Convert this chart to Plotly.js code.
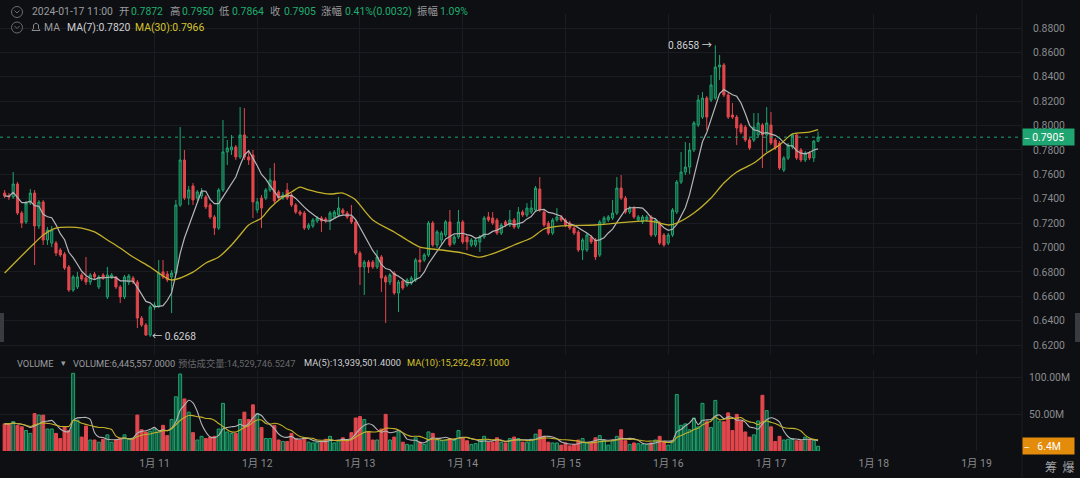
<!DOCTYPE html>
<html><head><meta charset="utf-8">
<script src="https://cdn.plot.ly/plotly-3.0.1.min.js"></script>
<style>html,body{margin:0;padding:0;background:#0e0f12;overflow:hidden}#chart{width:1080px;height:478px}</style>
</head><body><div id="chart"></div>
<script>
// hourly candles, first candle 2024-01-09 13:00, last 2024-01-17 11:00
const open = [0.7447,0.7423,0.7415,0.7521,0.7283,0.7210,0.7365,0.7447,0.7177,0.7374,0.7062,0.7037,0.7037,0.6980,0.6947,0.6841,0.6652,0.6677,0.6775,0.6750,0.6717,0.6783,0.6677,0.6775,0.6595,0.6750,0.6759,0.6677,0.6595,0.6717,0.6750,0.6717,0.6422,0.6365,0.6283,0.6513,0.6521,0.6800,0.6783,0.6759,0.6791,0.7349,0.7718,0.7406,0.7505,0.7406,0.7423,0.7415,0.7349,0.7251,0.7160,0.7472,0.7784,0.7800,0.7825,0.7743,0.7923,0.7743,0.7759,0.7308,0.7406,0.7406,0.7472,0.7546,0.7456,0.7406,0.7472,0.7431,0.7349,0.7291,0.7283,0.7160,0.7177,0.7218,0.7242,0.7234,0.7218,0.7251,0.7267,0.7308,0.7283,0.7251,0.7210,0.6955,0.6841,0.6881,0.6881,0.6841,0.6923,0.6759,0.6717,0.6791,0.6627,0.6726,0.6693,0.6709,0.6734,0.6898,0.6898,0.6939,0.7201,0.7021,0.7062,0.7103,0.7210,0.7037,0.7087,0.7210,0.7087,0.7021,0.7021,0.7046,0.7087,0.7251,0.7242,0.7226,0.7119,0.7210,0.7185,0.7226,0.7168,0.7291,0.7267,0.7291,0.7308,0.7480,0.7291,0.7201,0.7119,0.7226,0.7251,0.7226,0.7201,0.7160,0.7128,0.6980,0.6980,0.7087,0.7062,0.6939,0.7201,0.7226,0.7242,0.7283,0.7488,0.7406,0.7291,0.7324,0.7226,0.7210,0.7226,0.7251,0.7103,0.7201,0.7103,0.7037,0.7103,0.7291,0.7537,0.7619,0.7660,0.7800,0.8005,0.8070,0.8226,0.8210,0.8226,0.8480,0.8497,0.8251,0.8087,0.8070,0.8005,0.7988,0.7882,0.7882,0.7923,0.8005,0.7923,0.8005,0.7882,0.7857,0.7636,0.7734,0.7824,0.7923,0.7800,0.7718,0.7775,0.7734,0.7872];
const high = [0.7472,0.7447,0.7620,0.7538,0.7300,0.7382,0.7480,0.7472,0.7390,0.7390,0.7169,0.7177,0.7054,0.6996,0.6964,0.6857,0.6775,0.6800,0.6791,0.6923,0.6791,0.6800,0.6775,0.6791,0.6841,0.6791,0.6767,0.6693,0.6775,0.6783,0.6767,0.6734,0.6439,0.6381,0.6529,0.6554,0.6898,0.6898,0.6808,0.6816,0.7390,0.7988,0.7800,0.7505,0.7529,0.7472,0.7488,0.7431,0.7365,0.7267,0.7488,0.8046,0.7882,0.7923,0.7841,0.8152,0.8144,0.7784,0.7800,0.7406,0.7431,0.7488,0.7652,0.7693,0.7472,0.7456,0.7529,0.7447,0.7365,0.7308,0.7300,0.7201,0.7242,0.7259,0.7259,0.7251,0.7300,0.7308,0.7415,0.7324,0.7300,0.7349,0.7226,0.6972,0.6898,0.6898,0.6898,0.6980,0.6939,0.6775,0.6791,0.6808,0.6734,0.6734,0.6750,0.6767,0.6914,0.6996,0.6955,0.7218,0.7218,0.7144,0.7136,0.7226,0.7308,0.7103,0.7308,0.7226,0.7103,0.7078,0.7078,0.7103,0.7259,0.7291,0.7291,0.7242,0.7201,0.7226,0.7308,0.7242,0.7332,0.7308,0.7365,0.7390,0.7505,0.7578,0.7308,0.7218,0.7242,0.7324,0.7267,0.7242,0.7218,0.7177,0.7144,0.7078,0.7119,0.7103,0.7078,0.7226,0.7259,0.7267,0.7390,0.7578,0.7595,0.7423,0.7341,0.7341,0.7267,0.7267,0.7267,0.7267,0.7242,0.7218,0.7119,0.7119,0.7324,0.7554,0.7783,0.7865,0.7857,0.8037,0.8251,0.8275,0.8242,0.8415,0.8658,0.8579,0.8513,0.8267,0.8185,0.8087,0.8021,0.8005,0.7898,0.8103,0.8103,0.8021,0.8152,0.8111,0.7898,0.7874,0.7750,0.7857,0.7939,0.7939,0.7816,0.7791,0.7791,0.7882,0.7950];
const low = [0.7406,0.7390,0.7398,0.7267,0.7160,0.7193,0.7349,0.6857,0.7152,0.7021,0.7021,0.7005,0.6931,0.6923,0.6816,0.6636,0.6636,0.6660,0.6726,0.6693,0.6693,0.6742,0.6660,0.6734,0.6578,0.6742,0.6660,0.6545,0.6578,0.6693,0.6701,0.6340,0.6349,0.6275,0.6268,0.6488,0.6504,0.6742,0.6717,0.6463,0.6775,0.7333,0.7390,0.7349,0.7349,0.7382,0.7398,0.7316,0.7234,0.7103,0.7144,0.7456,0.7677,0.7759,0.7718,0.7726,0.7718,0.7677,0.7242,0.7283,0.7160,0.7390,0.7456,0.7365,0.7390,0.7390,0.7390,0.7333,0.7275,0.7259,0.7144,0.7144,0.7160,0.7201,0.7128,0.7201,0.7144,0.7234,0.7251,0.7267,0.7234,0.7193,0.6939,0.6693,0.6611,0.6791,0.6824,0.6824,0.6636,0.6381,0.6693,0.6611,0.6471,0.6652,0.6677,0.6693,0.6717,0.6799,0.6881,0.6923,0.7005,0.6996,0.7021,0.7087,0.7005,0.7021,0.7070,0.7029,0.6980,0.7005,0.7005,0.6964,0.7070,0.7210,0.7185,0.7103,0.7103,0.7168,0.7168,0.7152,0.7152,0.7251,0.7251,0.7275,0.7291,0.7291,0.7168,0.7103,0.7103,0.7210,0.7210,0.7168,0.7144,0.7103,0.6964,0.6898,0.6964,0.7029,0.6898,0.6923,0.7185,0.7210,0.7226,0.7267,0.7390,0.7275,0.7275,0.7234,0.7210,0.7193,0.7210,0.7087,0.7087,0.7021,0.7005,0.7021,0.7087,0.7275,0.7521,0.7595,0.7603,0.7783,0.7988,0.8054,0.7964,0.8193,0.8210,0.8374,0.8234,0.8054,0.8054,0.7841,0.7931,0.7865,0.7800,0.7865,0.7906,0.7652,0.7783,0.7841,0.7800,0.7636,0.7619,0.7718,0.7808,0.7718,0.7701,0.7701,0.7718,0.7701,0.7864];
const close = [0.7423,0.7415,0.7521,0.7283,0.7201,0.7365,0.7447,0.7177,0.7374,0.7062,0.7144,0.7144,0.6955,0.6939,0.6832,0.6652,0.6759,0.6759,0.6742,0.6717,0.6775,0.6759,0.6759,0.6750,0.6775,0.6775,0.6677,0.6595,0.6759,0.6767,0.6717,0.6422,0.6365,0.6283,0.6513,0.6529,0.6791,0.6759,0.6734,0.6791,0.7349,0.7718,0.7406,0.7472,0.7390,0.7456,0.7456,0.7333,0.7251,0.7160,0.7472,0.7784,0.7816,0.7825,0.7743,0.7923,0.7743,0.7718,0.7374,0.7374,0.7324,0.7472,0.7554,0.7382,0.7406,0.7431,0.7406,0.7349,0.7291,0.7275,0.7160,0.7185,0.7226,0.7242,0.7218,0.7218,0.7283,0.7291,0.7324,0.7283,0.7251,0.7210,0.6955,0.6841,0.6881,0.6841,0.6841,0.6923,0.6750,0.6717,0.6775,0.6627,0.6717,0.6668,0.6734,0.6750,0.6898,0.6881,0.6939,0.7201,0.7021,0.7128,0.7119,0.7210,0.7021,0.7087,0.7210,0.7046,0.7046,0.7062,0.7062,0.7087,0.7242,0.7226,0.7201,0.7119,0.7185,0.7185,0.7226,0.7168,0.7291,0.7267,0.7324,0.7324,0.7488,0.7308,0.7185,0.7119,0.7226,0.7251,0.7226,0.7185,0.7160,0.7119,0.6980,0.7062,0.7103,0.7046,0.6923,0.7210,0.7242,0.7251,0.7283,0.7488,0.7406,0.7291,0.7324,0.7251,0.7251,0.7251,0.7251,0.7103,0.7226,0.7037,0.7021,0.7103,0.7308,0.7537,0.7619,0.7660,0.7800,0.8021,0.8210,0.8226,0.8070,0.8333,0.8480,0.8497,0.8251,0.8070,0.8070,0.7980,0.7947,0.7882,0.7816,0.7988,0.8021,0.7923,0.8021,0.7857,0.7816,0.7652,0.7734,0.7841,0.7923,0.7734,0.7718,0.7775,0.7734,0.7872,0.7905];
// volume in millions
const volume = [37,37,40,35,33,28,24,51,49,49,30,30,24,17,33,28,106,42,19,34,15,15,12,16,22,12,15,17,22,17,17,49,29,26,27,30,26,35,21,43,74,105,71,53,25,15,20,17,19,20,30,65,26,24,24,43,53,43,63,51,32,17,17,35,15,13,13,24,17,15,17,12,11,12,13,16,20,11,14,18,15,25,45,47,43,26,15,15,30,50,15,19,26,12,9,8,18,12,9,26,24,15,14,15,17,15,28,18,14,9,10,15,20,12,12,18,12,11,17,19,17,12,12,16,23,29,20,12,11,11,8,11,7,9,15,17,11,11,18,21,15,8,14,20,29,14,9,11,10,9,9,11,15,20,13,8,14,77,35,37,29,45,33,65,40,32,69,40,40,52,28,50,41,26,19,22,41,76,55,33,13,20,15,16,17,14,14,19,16,14.3,6.4456];
// MA(30) line: candle index -> value
const ma30Idx = [0,3,7,9,12,15,18,21,24,27,30,34,36,39,44,47,50,53,55,57,60,62,65,67,69,71,73,76,79,81,82,86,91,94,97,102,107,111,115,119,123,126,130,138,146,150,153,155,157,161,165,168,171,175,178,181,184,188,190];
const ma30Val = [0.6791,0.6898,0.7037,0.7103,0.7160,0.7168,0.7160,0.7128,0.7062,0.6996,0.6922,0.6840,0.6791,0.6734,0.6799,0.6873,0.6922,0.7021,0.7103,0.7185,0.7242,0.7324,0.7414,0.7455,0.7496,0.7472,0.7455,0.7439,0.7447,0.7414,0.7390,0.7226,0.7128,0.7062,0.7004,0.6980,0.6955,0.6922,0.6963,0.7021,0.7078,0.7152,0.7177,0.7185,0.7210,0.7218,0.7201,0.7185,0.7201,0.7283,0.7406,0.7529,0.7619,0.7693,0.7775,0.7841,0.7931,0.7947,0.7966];
const dayTicks = ['2024-01-11','2024-01-12','2024-01-13','2024-01-14','2024-01-15','2024-01-16','2024-01-17','2024-01-18','2024-01-19'];
const dayLabels = ['1月 11','1月 12','1月 13','1月 14','1月 15','1月 16','1月 17','1月 18','1月 19'];
const priceTicks = [0.62,0.64,0.66,0.68,0.70,0.72,0.74,0.76,0.78,0.80,0.82,0.84,0.86,0.88];
const volTicks = [0,50,100];
const volTickText = ['','50.00M','100.00M'];
// header readouts as shown on the chart
const headerTime = '2024-01-17 11:00';
const headerChange = '0.41%(0.0032)', headerAmp = '1.09%';
const headerMA7 = 'MA(7):0.7820', headerMA30 = 'MA(30):0.7966';
const volHeader = ['VOLUME:6,445,557.0000','预估成交量:14,529,746.5247','MA(5):13,939,501.4000','MA(10):15,292,437.1000'];

const UP='#1fa571', UPFILL='#0f5238', DN='#e2474d';
const BG='#0e0f12', GRID='#1b1c21', TXT='#8a8b8f';
const FONT='Roboto, "Noto Sans CJK SC", sans-serif';

function hourStr(h){const d=new Date(Date.UTC(2024,0,9,13)+h*3600000);return d.toISOString().slice(0,19).replace('T',' ');}
const times = close.map((_,i)=>hourStr(i));
function ma(arr,n){return arr.map((_,i)=>{const s=Math.max(0,i-n+1);let t=0;for(let k=s;k<=i;k++)t+=arr[k];return t/(i-s+1);});}
const ma7 = ma(close,7);
const vma5 = ma(volume,5), vma10 = ma(volume,10);
const isUp = close.map((c,i)=>c>=open[i]);
const last = close.length-1;

const traces = [
 {type:'candlestick',x:times,open:open,high:high,low:low,close:close,xaxis:'x',yaxis:'y',
  increasing:{line:{color:UP,width:1},fillcolor:UPFILL},decreasing:{line:{color:DN,width:1},fillcolor:DN},
  whiskerwidth:0,hoverinfo:'skip'},
 {type:'scatter',mode:'lines',x:times,y:ma7,line:{color:'#b4b5b8',width:1.2},xaxis:'x',yaxis:'y',hoverinfo:'skip'},
 {type:'scatter',mode:'lines',x:ma30Idx.map(hourStr),y:ma30Val,line:{color:'#c2b02a',width:1.3,shape:'spline',smoothing:0.8},xaxis:'x',yaxis:'y',hoverinfo:'skip'},
 {type:'bar',x:times,y:volume,width:2500000,xaxis:'x',yaxis:'y2',
  marker:{color:isUp.map(u=>u?UPFILL:DN),line:{color:isUp.map(u=>u?UP:DN),width:1}},hoverinfo:'skip'},
 {type:'scatter',mode:'lines',x:times,y:vma5,line:{color:'#b4b5b8',width:1.1,shape:'spline',smoothing:0.6},xaxis:'x',yaxis:'y2',hoverinfo:'skip'},
 {type:'scatter',mode:'lines',x:times,y:vma10,line:{color:'#c2b02a',width:1.1,shape:'spline',smoothing:0.6},xaxis:'x',yaxis:'y2',hoverinfo:'skip'}
];

const PW=1022, H=478;
const px=x=>x/PW, py=y=>1-y/H;
const ann=[];
function T(x,y,text,color,size,anchor,fam){ann.push({xref:'paper',yref:'paper',x:px(x),y:py(y),text:text,showarrow:false,xanchor:anchor||'left',yanchor:'middle',font:{family:fam||FONT,size:size||10.4,color:color}});}
const G='#1fae70', L='#9a9b9f';
T(30,12,headerTime,L);
T(117,12,'开',L);T(129,12,open[last].toFixed(4),G);
T(168,12,'高',L);T(180,12,high[last].toFixed(4),G);
T(217,12,'低',L);T(230,12,low[last].toFixed(4),G);
T(268,12,'收',L);T(282,12,close[last].toFixed(4),G);
T(319,12,'涨幅',L);T(343,12,headerChange,G);
T(415,12,'振幅',L);T(438,12,headerAmp,G);
T(42,27.5,'MA',L);
T(65,27.5,headerMA7,'#cfd0d3');
T(133,27.5,headerMA30,'#d6c42b');
T(15,363,'VOLUME',L,9.3);
T(59,363,'▾',L,8.5);
T(71,363,volHeader[0],L,9.3);
T(176,363,volHeader[1],'#66676b',9.3);
T(302,363,volHeader[2],'#d0d1d4',9.3);
T(405,363,volHeader[3],'#d6c42b',9.3);
T(1059,466,'筹  爆','#a0a1a5',12,'center','"Noto Sans CJK SC", sans-serif');

// extreme labels
let hi=0,lo=0;high.forEach((v,i)=>{if(v>high[hi])hi=i;});low.forEach((v,i)=>{if(v<low[lo])lo=i;});
ann.push({xref:'x',yref:'y',x:times[lo],y:low[lo],text:'← '+low[lo].toFixed(4),showarrow:false,xanchor:'left',yanchor:'middle',xshift:0,font:{family:FONT,size:10.2,color:'#d0d1d4'}});
ann.push({xref:'x',yref:'y',x:times[hi],y:high[hi],text:high[hi].toFixed(4)+' →',showarrow:false,xanchor:'right',yanchor:'middle',xshift:-1,font:{family:FONT,size:10.2,color:'#d0d1d4'}});
// last price tag & last volume tag
ann.push({xref:'paper',yref:'y',x:px(1022),y:close[last],text:'‒ '+close[last].toFixed(4),showarrow:false,xanchor:'left',yanchor:'middle',bgcolor:'#1fa571',width:49,height:14,align:'left',borderpad:1,font:{family:FONT,size:10.4,color:'#ffffff'}});
ann.push({xref:'paper',yref:'y2',x:px(1022),y:volume[last],text:'‒   '+volume[last].toFixed(1)+'M',showarrow:false,xanchor:'left',yanchor:'middle',bgcolor:'#e38b0b',width:49,height:14,align:'left',borderpad:1,font:{family:FONT,size:10.4,color:'#ffffff'}});

const shapes=[
 {type:'line',xref:'paper',yref:'y',x0:0,x1:1,y0:close[last],y1:close[last],line:{color:'#1fa571',width:1,dash:'3px,4px'}},
 {type:'line',xref:'paper',yref:'paper',x0:1,x1:1,y0:0,y1:1,line:{color:'#1c1d22',width:1}},
 {type:'circle',xref:'paper',yref:'paper',x0:px(11.5),x1:px(22.5),y0:py(17.5),y1:py(6.5),line:{color:'#6a6b70',width:1}},
 {type:'path',xref:'paper',yref:'paper',path:`M ${px(14.5)},${py(10.5)} L ${px(17)},${py(13)} L ${px(19.5)},${py(10.5)}`,line:{color:'#6a6b70',width:1}},
 {type:'circle',xref:'paper',yref:'paper',x0:px(11.5),x1:px(22.5),y0:py(33),y1:py(22),line:{color:'#6a6b70',width:1}},
 {type:'path',xref:'paper',yref:'paper',path:`M ${px(14.5)},${py(26)} L ${px(17)},${py(28.5)} L ${px(19.5)},${py(26)}`,line:{color:'#6a6b70',width:1}},
 {type:'path',xref:'paper',yref:'paper',path:`M ${px(32)},${py(30.5)} L ${px(40)},${py(30.5)} L ${px(38.5)},${py(28.5)} L ${px(38.5)},${py(25)} Q ${px(36)},${py(21.5)} ${px(33.5)},${py(25)} L ${px(33.5)},${py(28.5)} Z`,line:{color:'#8a8b8f',width:1}},
 {type:'rect',xref:'paper',yref:'paper',x0:px(0),x1:px(4),y0:py(342),y1:py(313),fillcolor:'#3a3b40',line:{width:0}},
 {type:'rect',xref:'paper',yref:'paper',x0:px(1075),x1:px(1081),y0:py(342),y1:py(313),fillcolor:'#3a3b40',line:{width:0}}
];

const layout={
 width:1080,height:478,margin:{l:0,r:58,t:0,b:0},
 paper_bgcolor:BG,plot_bgcolor:BG,showlegend:false,hovermode:false,dragmode:false,
 font:{family:FONT,size:10.4,color:TXT},
 xaxis:{type:'date',range:['2024-01-09 11:55:00','2024-01-19 10:38:00'],anchor:'y2',domain:[0,1],
  tickvals:dayTicks,ticktext:dayLabels,showgrid:true,gridcolor:GRID,gridwidth:1,zeroline:false,showline:false,
  ticks:'',ticklabelstandoff:5,tickfont:{family:FONT,size:10.4,color:TXT},rangeslider:{visible:false},fixedrange:true},
 yaxis:{domain:[py(355),py(14)],range:[0.6119,0.8915],side:'right',tickvals:priceTicks,ticktext:priceTicks.map(v=>v.toFixed(4)),
  showgrid:true,gridcolor:GRID,gridwidth:1,zeroline:false,showline:false,ticks:'',ticklabelstandoff:10,tickfont:{family:FONT,size:10.4,color:TXT},fixedrange:true},
 yaxis2:{domain:[py(451),py(370)],range:[0,110.5],side:'right',tickvals:volTicks,ticktext:volTickText,
  showgrid:true,gridcolor:GRID,gridwidth:1,zeroline:false,showline:false,ticks:'',ticklabelstandoff:6,tickfont:{family:FONT,size:10.4,color:TXT},fixedrange:true},
 annotations:ann,shapes:shapes,bargap:0
};
Plotly.newPlot('chart',traces,layout,{staticPlot:true,displayModeBar:false});
</script></body></html>
